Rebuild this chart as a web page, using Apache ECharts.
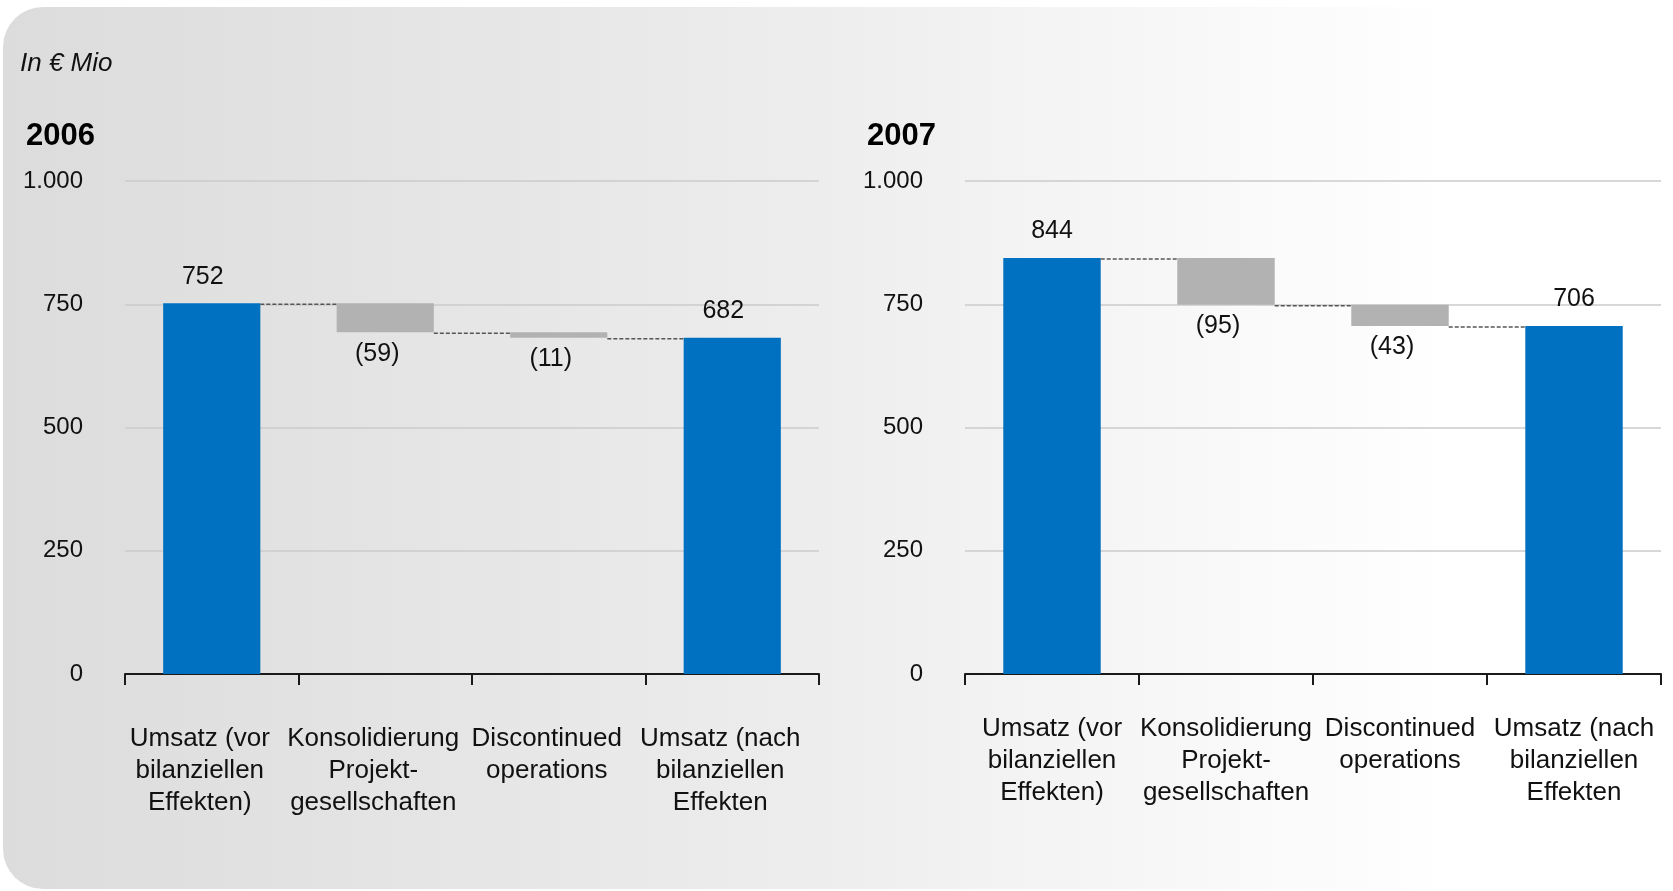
<!DOCTYPE html>
<html>
<head>
<meta charset="utf-8">
<script src="https://cdn.jsdelivr.net/npm/echarts@6/dist/echarts.min.js"></script>
<style>
  html, body { margin: 0; padding: 0; background: #ffffff; }
  #chart { width: 1673px; height: 891px; }
</style>
</head>
<body>
<div id="chart"></div>
<script>
// ---- data ----
const categories = [
  'Umsatz (vor\nbilanziellen\nEffekten)',
  'Konsolidierung\nProjekt-\ngesellschaften',
  'Discontinued\noperations',
  'Umsatz (nach\nbilanziellen\nEffekten'
];
const years = ['2006', '2007'];
const values2006 = [752, -59, -11, 682];
const values2007 = [844, -95, -43, 706];
const yTicks = [0, 250, 500, 750, 1000];
const unitLabel = 'In € Mio';

// ---- styling ----
const FONT = '"Liberation Sans", Arial, Helvetica, sans-serif';
const BLUE = '#0070c0';
const GRAY = '#b2b2b2';
const BAR_RATIO = 0.56;

const chart = echarts.init(document.getElementById('chart'), null, { renderer: 'canvas' });

function fmtNum(v) {
  return String(v).replace(/\B(?=(\d{3})+(?!\d))/g, '.');
}

function waterfall(values) {
  const base = [], height = [], levels = [], isTotal = [];
  let running = 0;
  values.forEach((v, i) => {
    const total = (i === 0 || i === values.length - 1);
    isTotal.push(total);
    if (total) {
      base.push(0); height.push(v); running = v;
    } else {
      const next = running + v;
      base.push(Math.min(running, next));
      height.push(Math.abs(v));
      running = next;
    }
    levels.push(running);
  });
  return { base, height, levels, isTotal };
}

const grids = [
  { left: 125, top: 181, width: 694, height: 493, outerBoundsMode: 'none' },
  { left: 965, top: 181, width: 696, height: 493, outerBoundsMode: 'none' }
];
const catMargins = [49, 39];
const catPadding = [[0, 24, 0, 0], [0, 0, 0, 0]];
const totalOffsets = [-9, 0];

const xAxes = [], yAxes = [], series = [];
[values2006, values2007].forEach((vals, k) => {
  const wf = waterfall(vals);
  xAxes.push({
    type: 'category', gridIndex: k, data: categories,
    axisLine: { show: true, lineStyle: { color: '#1a1a1a', width: 2 } },
    axisTick: { show: true, length: 11, lineStyle: { color: '#1a1a1a', width: 2 } },
    axisLabel: {
      interval: 0, margin: catMargins[k], color: '#111', fontFamily: FONT,
      fontSize: 26, lineHeight: 32, align: 'center', padding: catPadding[k]
    },
    splitLine: { show: false }
  });
  yAxes.push({
    type: 'value', gridIndex: k, min: yTicks[0], max: yTicks[yTicks.length - 1],
    interval: yTicks[1] - yTicks[0],
    axisLine: { show: false }, axisTick: { show: false },
    axisLabel: { margin: 42, color: '#111', fontFamily: FONT, fontSize: 24, formatter: v => fmtNum(v) },
    splitLine: { show: true, lineStyle: { color: '#cbcbcb', width: 1.5 } }
  });
  series.push({
    type: 'bar', xAxisIndex: k, yAxisIndex: k, stack: 'w' + k, silent: true,
    barWidth: (BAR_RATIO * 100) + '%',
    itemStyle: { color: 'transparent' }, emphasis: { disabled: true },
    data: wf.base
  });
  series.push({
    type: 'bar', xAxisIndex: k, yAxisIndex: k, stack: 'w' + k, silent: true,
    barWidth: (BAR_RATIO * 100) + '%',
    emphasis: { disabled: true },
    data: wf.height.map((h, i) => ({
      value: h,
      itemStyle: { color: wf.isTotal[i] ? BLUE : GRAY },
      label: {
        show: true,
        position: wf.isTotal[i] ? 'top' : 'bottom',
        distance: wf.isTotal[i] ? 14 : 9,
        offset: [wf.isTotal[i] ? totalOffsets[k] : -8, 0],
        formatter: wf.isTotal[i] ? String(vals[i]) : '(' + Math.abs(vals[i]) + ')',
        color: '#111', fontFamily: FONT, fontSize: 25
      }
    }))
  });
  series.push({
    type: 'custom', xAxisIndex: k, yAxisIndex: k, silent: true, z: 3,
    data: wf.levels.slice(0, -1).map((lv, i) => [i, lv]),
    renderItem: function (params, api) {
      const x = api.value(0), y = api.value(1);
      const p1 = api.coord([x, y]);
      const p2 = api.coord([x + 1, y]);
      const half = api.size([1, 0])[0] * BAR_RATIO / 2;
      return {
        type: 'line',
        shape: { x1: p1[0] + half, y1: p1[1] + 1, x2: p2[0] - half, y2: p2[1] + 1 },
        style: { stroke: '#555', lineWidth: 1.5, lineDash: [4, 2] }
      };
    }
  });
});

const option = {
  animation: false,
  backgroundColor: '#ffffff',
  graphic: [
    {
      type: 'rect', z: -10, silent: true,
      shape: { x: 3, y: 7, width: 1700, height: 882, r: [40, 0, 0, 40] },
      style: {
        fill: new echarts.graphic.LinearGradient(0, 0, 1, 0, [
          { offset: 0, color: '#dcdcdc' },
          { offset: 0.45, color: '#ececec' },
          { offset: 0.85, color: '#ffffff' },
          { offset: 1, color: '#ffffff' }
        ])
      }
    },
    {
      type: 'text', silent: true, x: 20, y: 64,
      style: { text: unitLabel, font: 'italic 26px ' + FONT, fill: '#111', textVerticalAlign: 'middle' }
    },
    {
      type: 'text', silent: true, x: 26, y: 136,
      style: { text: years[0], font: 'bold 31px ' + FONT, fill: '#000', textVerticalAlign: 'middle' }
    },
    {
      type: 'text', silent: true, x: 867, y: 136,
      style: { text: years[1], font: 'bold 31px ' + FONT, fill: '#000', textVerticalAlign: 'middle' }
    }
  ],
  grid: grids,
  xAxis: xAxes,
  yAxis: yAxes,
  series: series
};
chart.setOption(option);
</script>
</body>
</html>
